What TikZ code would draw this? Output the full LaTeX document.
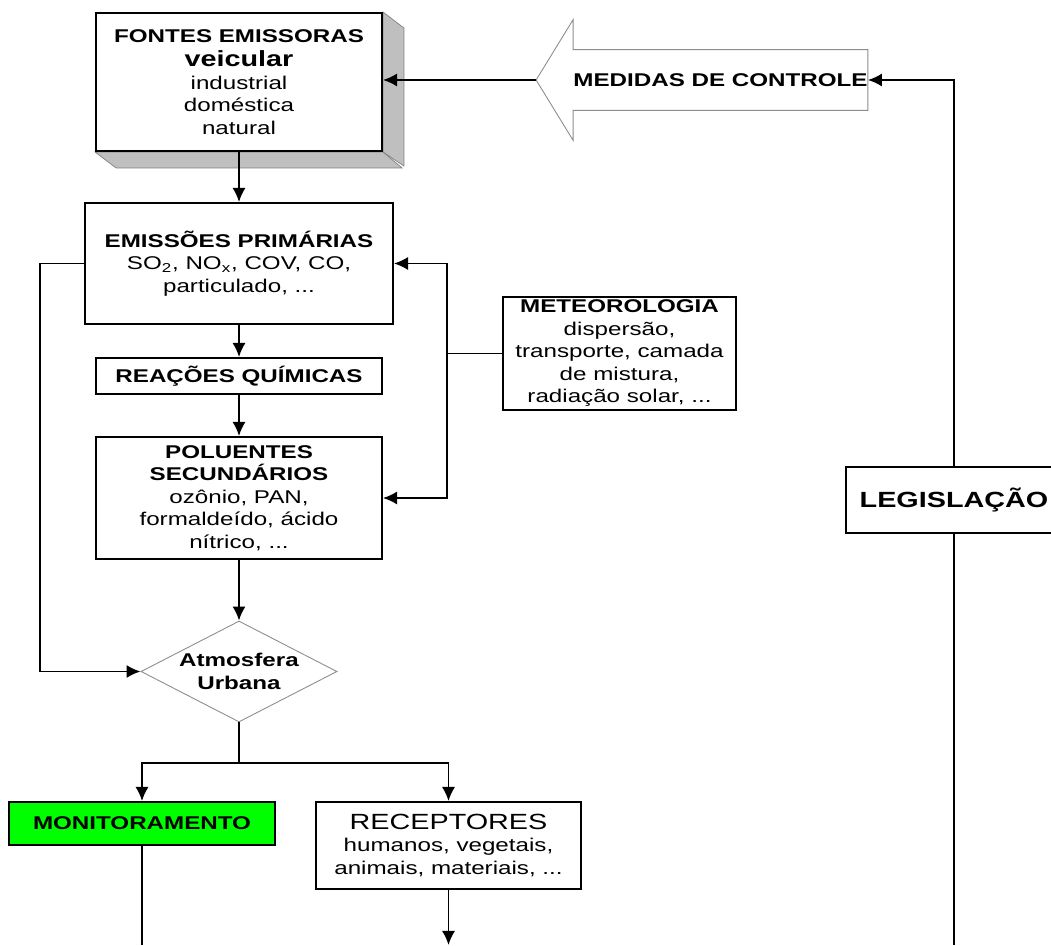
\documentclass[tikz,border=0pt]{standalone}
\usepackage{fontspec}
\setmainfont[FakeStretch=1.31]{Liberation Sans}
\usepackage{tikz}
\usetikzlibrary{shapes,arrows,arrows.meta,positioning,backgrounds}

\begin{document}
\begin{tikzpicture}[
    >={Latex[length=8pt,width=7.5pt]},
    base/.style={align=center, inner sep=0pt, font=\fontsize{10.5}{12.8}\selectfont},
    block/.style={base, draw, line width=1.1pt, fill=white},
    solid3d/.style={block, minimum width=5.72cm, minimum height=2.76cm},
    shade/.style={fill=black!25, draw=black!50, line width=0.4pt},
    decision/.style={base, diamond, draw=black!45, line width=0.5pt, font=\fontsize{10.5}{12.8}\selectfont\bfseries},
    action/.style={base, font=\fontsize{10.5}{12.8}\selectfont\bfseries},
    flow/.style={->, line width=1.1pt},
    link/.style={line width=1.1pt}
]
    \useasboundingbox (0,0) rectangle (21.02,-18.92);
    \clip (0,0) rectangle (21.02,-18.92);

    % === SOURCES ===
    \node[solid3d] (fontes) at (4.78,-1.64) {\textbf{FONTES EMISSORAS}\\[1pt]
        {\fontsize{12.5}{14}\selectfont\bfseries veicular}\\industrial\\doméstica\\natural};
    \begin{scope}[on background layer]
        \draw[shade] (fontes.north east) -- ++(0.42,-0.32) -- ++(0,-2.76) -- (fontes.south east) -- cycle;
        \draw[shade] (fontes.south west) -- ++(0.42,-0.32) -- ++(5.72,0) -- (fontes.south east) -- cycle;
    \end{scope}

    % === CONTROL ===
    \node[action, minimum width=5.86cm, minimum height=1.2cm] (medidas) at (14.41,-1.6) {MEDIDAS DE CONTROLE};
    \coordinate (tip) at ([xshift=-0.74cm]medidas.west);
    \draw[black!45, line width=0.5pt] (medidas.north west) -- (medidas.north east) -- (medidas.south east)
        -- (medidas.south west) -- ++(0,-0.6) -- (tip) -- ([yshift=0.6cm]medidas.north west) -- cycle;
    \node[block, minimum width=4.32cm, minimum height=1.32cm, font=\fontsize{12.5}{14}\selectfont\bfseries] (legis) at (19.08,-10.0) {LEGISLAÇÃO};

    % === CHAIN ===
    \node[block, minimum width=6.16cm, minimum height=2.42cm] (emiss) at (4.78,-5.27)
        {\textbf{EMISSÕES PRIMÁRIAS}\\SO\textsubscript{2}, NO\textsubscript{x}, COV, CO,\\particulado, ...};
    \node[block, minimum width=5.72cm, minimum height=0.72cm] (reac) at (4.78,-7.52) {\textbf{REAÇÕES QUÍMICAS}};
    \node[block, minimum width=5.72cm, minimum height=2.44cm] (polu) at (4.78,-9.96)
        {\textbf{POLUENTES}\\\textbf{SECUNDÁRIOS}\\ozônio, PAN,\\formaldeído, ácido\\nítrico, ...};
    \node[block, minimum width=4.66cm, minimum height=2.26cm] (meteo) at (12.39,-7.07)
        {\textbf{METEOROLOGIA}\\dispersão,\\transporte, camada\\de mistura,\\radiação solar, ...};
    \node[decision, minimum width=3.92cm, minimum height=2.02cm, aspect=1.94] (atmos) at (4.78,-13.43) {Atmosfera\\Urbana};

    % === EFFECTS ===
    \node[block, fill=green, minimum width=5.32cm, minimum height=0.86cm] (monit) at (2.84,-16.47) {\textbf{MONITORAMENTO}};
    \node[block, minimum width=5.30cm, minimum height=1.74cm] (recep) at (8.97,-16.91)
        {{\fontsize{12.5}{15}\selectfont RECEPTORES}\\humanos, vegetais,\\animais, materiais, ...};
    \coordinate (bottom) at (0,-18.9);

    % === CONNECTORS ===
    \draw[flow] (tip) -- (tip -| fontes.east);
    \draw[flow] (legis.north) |- (medidas.east);
    \draw[flow] (fontes.south) -- (emiss.north);
    \draw[flow] (emiss.south) -- (reac.north);
    \draw[flow] (reac.south) -- (polu.north);
    \draw[flow] (polu.south) -- (atmos.north);
    \draw[flow] (emiss.west) -- ++(-0.88,0) |- (atmos.west);
    \draw[flow] (meteo.west) -- ++(-1.1,0) |- (emiss.east);
    \draw[flow] (meteo.west) -- ++(-1.1,0) |- (polu.east);
    \draw[flow] (atmos.south) -- ++(0,-0.82) -| (monit.north);
    \draw[flow] (atmos.south) -- ++(0,-0.82) -| (recep.north);
    \draw[link] (monit.south) -- (monit.south |- bottom);
    \draw[flow] (recep.south) -- (recep.south |- bottom);
    \draw[link] (legis.south) -- (legis.south |- bottom);

\end{tikzpicture}
\end{document}
